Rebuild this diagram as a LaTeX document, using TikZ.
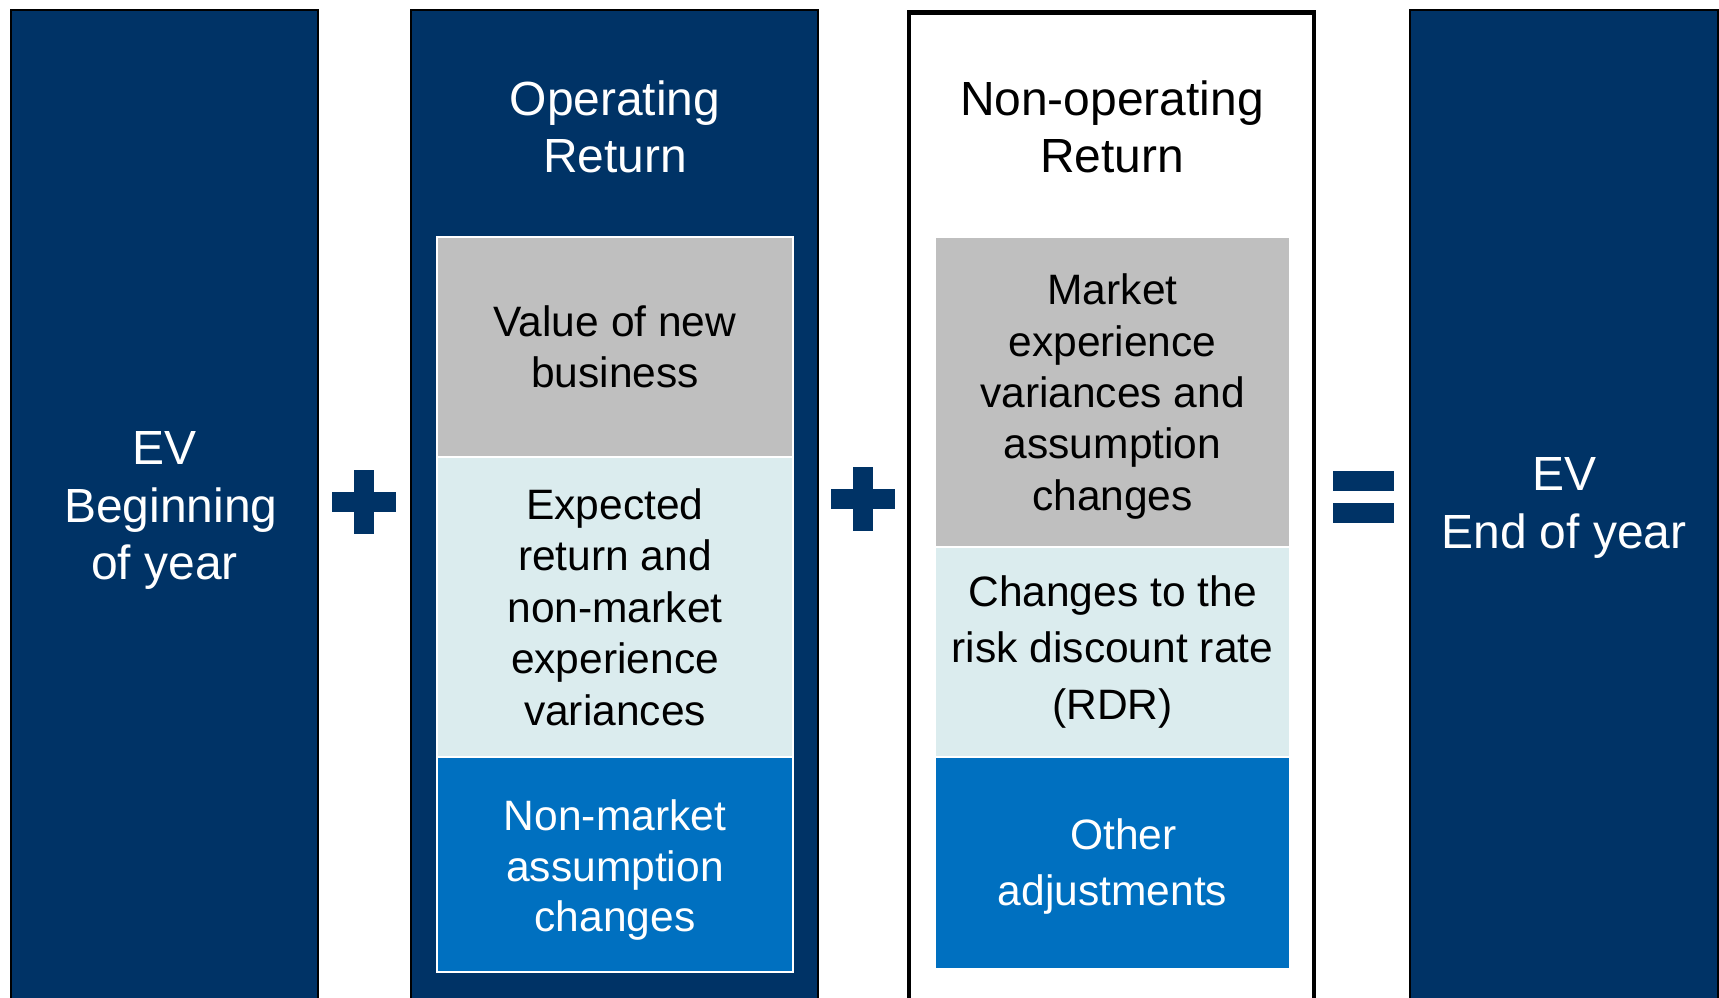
\documentclass[tikz,border=0pt]{standalone}
\usepackage{fontspec}
\setmainfont{Liberation Sans}
\usetikzlibrary{positioning}
\definecolor{navy}{RGB}{0,51,102}
\definecolor{silver}{RGB}{191,191,191}
\definecolor{paleblue}{RGB}{219,236,238}
\definecolor{midblue}{RGB}{0,112,192}

\begin{document}
\begin{tikzpicture}[x=0.02cm,y=-0.02cm]
	\tikzstyle{every node}+=[inner sep=0pt,outer sep=0pt,align=center]
	\tikzstyle{column}=[fill=navy,draw=black,line width=0.8pt]
	\tikzstyle{bigtext}=[font=\fontsize{27.3}{32.8}\selectfont]
	\tikzstyle{celltext}=[font=\fontsize{24.2}{29.3}\selectfont]
	\tikzstyle{cell}=[celltext,draw=white,line width=1.1pt]
	\tikzstyle{sign}=[fill=navy,minimum width=0.4cm,minimum height=1.28cm]
	\useasboundingbox (0,0) rectangle (1719,997);
	\clip (0,0) rectangle (1719,997);
	% the four columns
	\draw [column] (11,10) rectangle (318,1010);
	\draw [column] (411,10) rectangle (818,1010);
	\draw [black,line width=2.3pt,fill=white] (909,12.5) rectangle (1314,1010);
	\draw [column] (1410,10) rectangle (1718,1010);
	\node [bigtext,text=white] (evbegin) at (164.5,510.5) {EV\\\hspace*{0.26cm}Beginning\\of year};
	\node [bigtext,text=white] (opret) at (615,127) {Operating\\Return};
	\node [bigtext] (nonopret) at (1112,127) {Non-operating\\Return};
	\node [bigtext,text=white] (evend) at (1564,508) {EV\\End of year};
	% operating return parts
	\node [cell,fill=silver,minimum width=7.12cm,minimum height=4.4cm] (newbiz) at (615,347) {Value of new\\business};
	\node [cell,fill=paleblue,minimum width=7.12cm,minimum height=6cm,below=0pt of newbiz] (expret) {Expected\\return and\\non-market\\experience\\variances};
	\node [cell,fill=midblue,minimum width=7.12cm,minimum height=4.3cm,below=0pt of expret] (nmchanges) {};
	\node [celltext,text=white,yshift=-0.12cm,font=\fontsize{24.2}{28.7}\selectfont] (nmchangestext) at (nmchanges) {Non-market\\assumption\\changes};
	% non-operating return parts
	\node [cell,fill=silver,minimum width=7.1cm,minimum height=6.2cm] (mktvar) at (1112.5,392) {};
	\node [celltext,yshift=-0.09cm] (mktvartext) at (mktvar) {Market\\experience\\variances and\\assumption\\changes};
	\node [cell,fill=paleblue,minimum width=7.1cm,minimum height=4.2cm,below=0pt of mktvar,font=\fontsize{24.2}{31.9}\selectfont] (rdr) {Changes to the\\risk discount rate\\(RDR)};
	\node [cell,fill=midblue,minimum width=7.1cm,minimum height=4.24cm,below=0pt of rdr] (otheradj) {};
	\node [celltext,text=white,yshift=-0.08cm,font=\fontsize{24.2}{31.9}\selectfont] (otheradjtext) at (otheradj) {\hspace*{0.44cm}Other\\adjustments};
	% plus and equal signs
	\foreach \n/\x/\y in {a/364/502,b/863/499} {
		\node [sign] (plus\n v) at (\x,\y) {};
		\node [sign,minimum width=1.28cm,minimum height=0.4cm] (plus\n h) at (\x,\y) {};
	}
	\node [sign,minimum width=1.22cm,minimum height=0.4cm] (equaltop) at (1363.5,481) {};
	\node [sign,minimum width=1.22cm,minimum height=0.4cm] (equalbot) at (1363.5,512.5) {};
\end{tikzpicture}
\end{document}
